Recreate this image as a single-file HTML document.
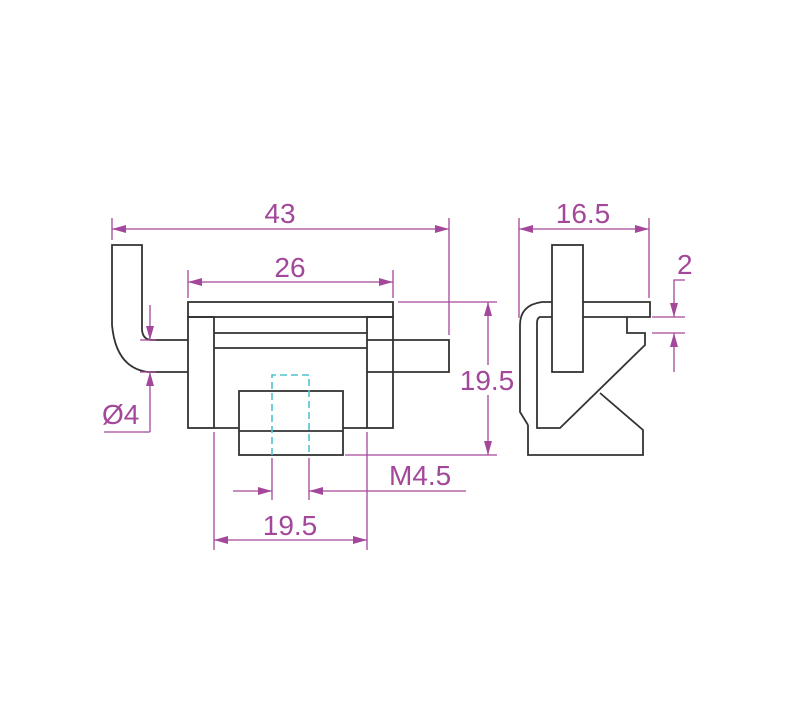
<!DOCTYPE html>
<html><head><style>body{margin:0;background:#fff}svg{display:block}</style></head><body>
<svg width="800" height="720" xmlns="http://www.w3.org/2000/svg">
<defs>
<marker id="a" viewBox="0 0 14 8" refX="14" refY="4" markerWidth="14" markerHeight="8" orient="auto-start-reverse" markerUnits="userSpaceOnUse"><path d="M0,0 L14,4 L0,8 Z" fill="#a3479a"/></marker>
</defs>
<g fill="none" stroke="#333" stroke-width="1.8">
<path d="M112,325 L112,245 L142,245 L142,330 Q143,340 152,340 L188,340"/>
<path d="M112,325 Q116,368 148,372 L188,372"/>
<rect x="188" y="302" width="205" height="15"/>
<rect x="188" y="317" width="26" height="111"/>
<rect x="367" y="317" width="26" height="111"/>
<path d="M214,333 H367 M214,348 H367"/>
<path d="M367,340 H449 V372 H367"/>
<path d="M214,428 H239 M343,428 H367"/>
<rect x="239" y="391" width="104" height="64"/>
<path d="M239,431 H343"/>
<rect x="552" y="245" width="31" height="127"/>
<path d="M583,302 H650 V317 H583"/>
<path d="M552,302 H542 Q520,305 520,325 L520,412 L528,425"/>
<path d="M552,317 H540 Q537,318 537,323 L537,428 H560 L645,345 V333 H627 V317"/>
<path d="M528,425 V455 H643 V430 L600,393"/>
</g>
<path d="M272,455 V375 H309 V455" fill="none" stroke="#4fc3d0" stroke-width="1.6" stroke-dasharray="7,4"/>
<g fill="none" stroke="#a3479a" stroke-width="1.3">
<path d="M112,218 V240 M449,218 V335"/>
<path d="M112,229 H449" marker-start="url(#a)" marker-end="url(#a)"/>
<path d="M188,270 V298 M393,270 V298"/>
<path d="M188,282 H393" marker-start="url(#a)" marker-end="url(#a)"/>
<path d="M398,302 H497 M345,455 H497"/>
<path d="M488,365 V302" marker-end="url(#a)"/>
<path d="M488,395 V455" marker-end="url(#a)"/>
<path d="M214,432 V550 M367,432 V550"/>
<path d="M214,540 H367" marker-start="url(#a)" marker-end="url(#a)"/>
<path d="M272,458 V500 M309,458 V500"/>
<path d="M233,491 H272" marker-end="url(#a)"/>
<path d="M466,491 H309" marker-end="url(#a)"/>
<path d="M150,305 V340" marker-end="url(#a)"/>
<path d="M150,432 V372" marker-end="url(#a)"/>
<path d="M140,340 H156 M140,372 H156 M104,432 H150"/>
<path d="M519,218 V318 M649,218 V298"/>
<path d="M519,229 H649" marker-start="url(#a)" marker-end="url(#a)"/>
<path d="M685,280 H674 V317" marker-end="url(#a)"/>
<path d="M674,372 V333" marker-end="url(#a)"/>
<path d="M652,317 H685 M652,333 H685"/>
</g>
<g fill="#a3479a" font-family="Liberation Sans, sans-serif" font-size="28">
<text x="280" y="223" text-anchor="middle">43</text>
<text x="290" y="277" text-anchor="middle">26</text>
<text x="487" y="390" text-anchor="middle">19.5</text>
<text x="290" y="535" text-anchor="middle">19.5</text>
<text x="389" y="485">M4.5</text>
<text x="102" y="424">Ø4</text>
<text x="583" y="223" text-anchor="middle">16.5</text>
<text x="677" y="274">2</text>
</g>
</svg>
</body></html>
